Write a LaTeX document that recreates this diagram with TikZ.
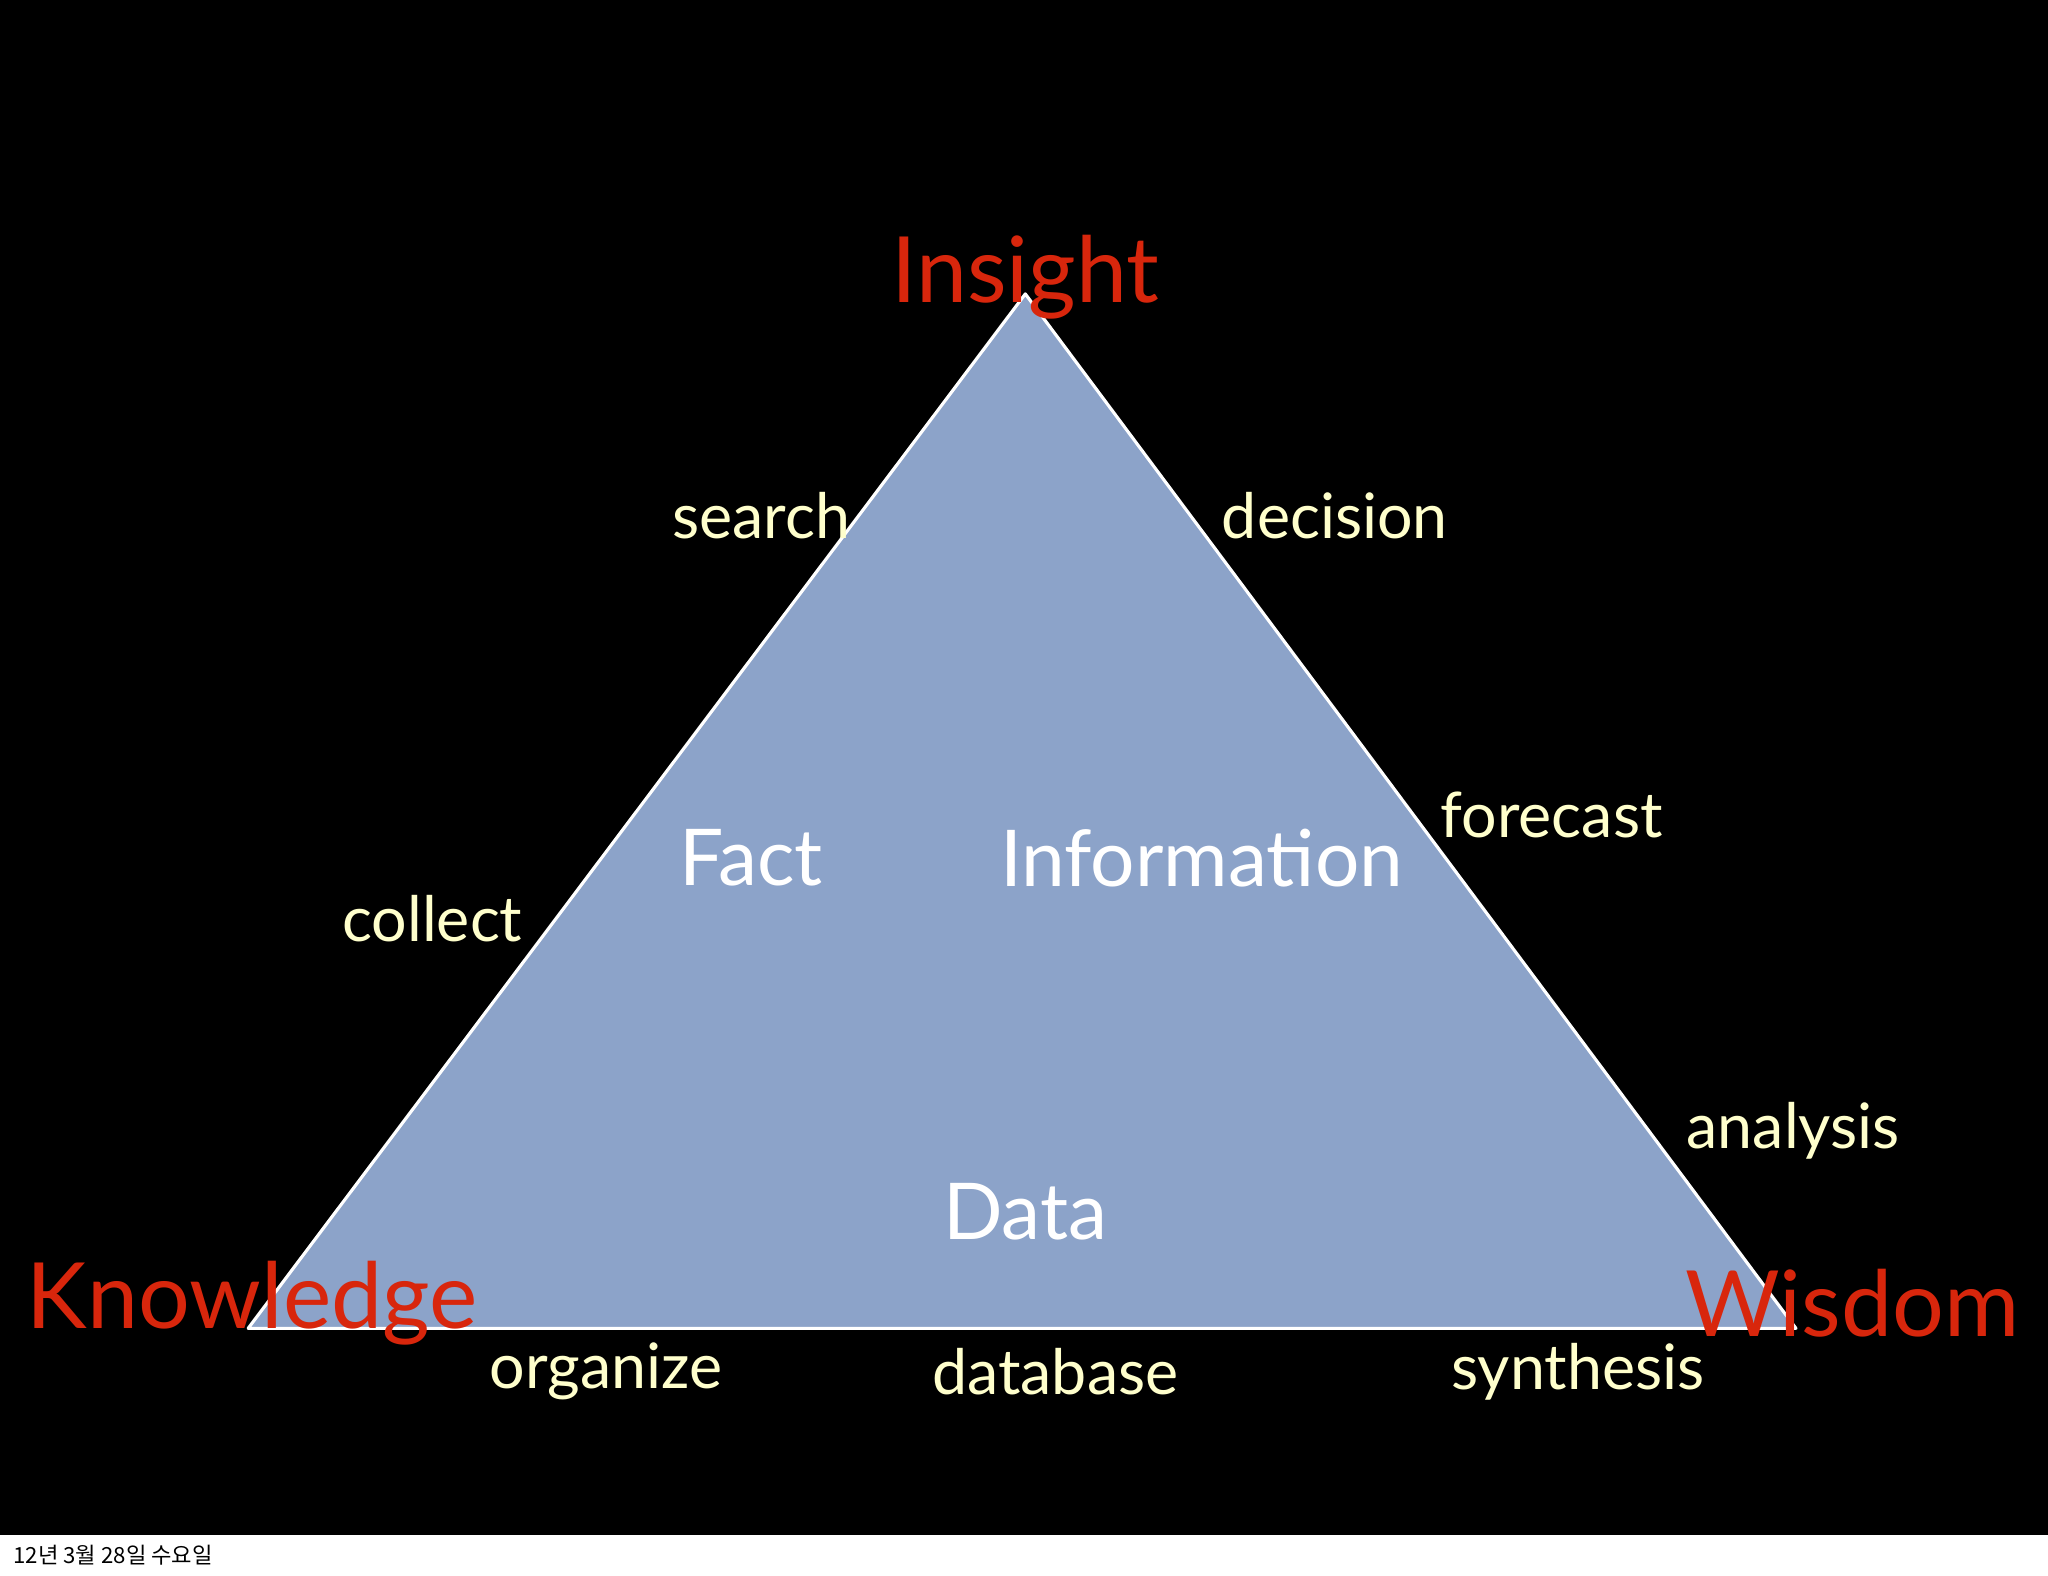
\documentclass[tikz,border=0pt]{standalone}
\usepackage{fontspec}
\setmainfont{Lato}
\newfontfamily\kr{Noto Sans CJK KR}
\definecolor{tri}{HTML}{8CA3C9}
\definecolor{redl}{HTML}{D8260C}
\definecolor{yel}{HTML}{FFFFCC}
\tikzset{
 corner/.style={text=redl,font=\fontsize{35}{40}\selectfont,inner sep=0pt},
 lab/.style={text=yel,font=\fontsize{24}{28}\selectfont,inner sep=0pt},
 inl/.style={text=white,font=\fontsize{30}{34}\selectfont,inner sep=0pt}
}
\begin{document}
\begin{tikzpicture}[x=0.5pt,y=-0.5pt]
\fill[white] (0,0) rectangle (1568,1206);
\fill[black] (0,0) rectangle (1568,1175);
\useasboundingbox (0,0) rectangle (1568,1206);
\coordinate (A) at (785,225);
\coordinate (L) at (190,1017);
\coordinate (R) at (1375,1017);
\filldraw[fill=tri,draw=white,line width=1.2pt,line join=round] (A) -- (L) -- (R) -- cycle;
\node[corner] (insight) at (785,212) {Insight};
\node[corner] (knowledge) at (193,998) {Knowledge};
\node[corner] (wisdom) at (1418,998) {Wisdom};
\node[lab] (search) at (583,395) {search};
\node[lab] (decision) at (1022,395) {decision};
\node[lab] (collect) at (331,703) {collect};
\node[lab] (forecast) at (1188,624) {forecast};
\node[lab] (analysis) at (1373,866) {analysis};
\node[lab] (organize) at (464,1050) {organize};
\node[lab] (database) at (808,1050) {database};
\node[lab] (synthesis) at (1208,1050) {synthesis};
\node[inl] (fact) at (575,657) {Fact};
\node[inl] (info) at (920,657) {Information};
\node[inl] (data) at (785,928) {Data};
\node[anchor=west,inner sep=0pt,font=\kr\fontsize{8.5}{10}\selectfont] (date) at (10,1191) {12년 3월 28일 수요일};
\end{tikzpicture}
\end{document}
